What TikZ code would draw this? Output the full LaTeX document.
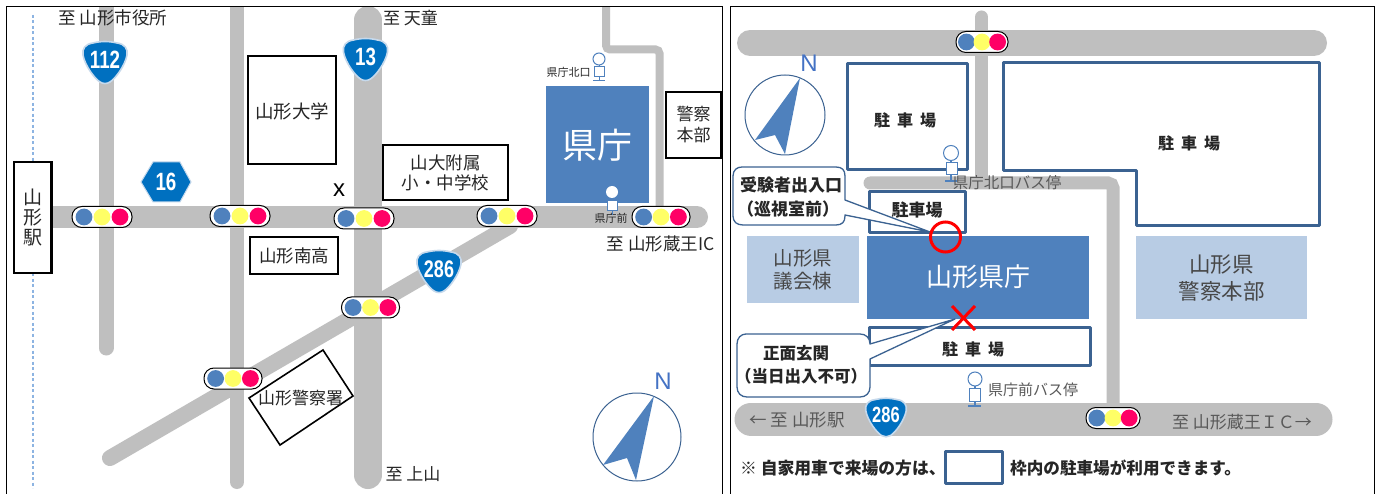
\documentclass[tikz,border=0pt]{standalone}
\usepackage{fontspec}
\newfontfamily\jp{Noto Sans CJK JP}
\newfontfamily\lat{Liberation Sans}
\usetikzlibrary{calc}
\definecolor{road}{HTML}{BFBFBF}
\definecolor{bldg}{HTML}{4F81BD}
\definecolor{pale}{HTML}{B8CCE4}
\definecolor{park}{HTML}{3B6291}
\definecolor{route}{HTML}{0070C0}
\definecolor{routeedge}{HTML}{C6D9EC}
\definecolor{sigy}{HTML}{FFFF66}
\definecolor{sigr}{HTML}{FF0066}
\definecolor{txt}{HTML}{262626}
\definecolor{gtxt}{HTML}{595959}
\definecolor{northc}{HTML}{4472C4}
\definecolor{rail}{HTML}{8DB4E2}
\tikzset{
  panel/.style={draw=black,line width=1pt},
  roadcap/.style={draw=road,line width=#1,line cap=round},
  bbox/.style={draw=black,line width=2.2pt,fill=white,line join=miter},
  pbox/.style={draw=park,line width=3pt,fill=white,line join=round},
  lab/.style={font=\jp\fontsize{#1}{#1}\selectfont,text=txt,inner sep=0pt},
  blab/.style={font=\jp\bfseries\fontsize{#1}{#1}\selectfont,text=txt,inner sep=0pt},
  glab/.style={font=\jp\fontsize{#1}{#1}\selectfont,text=gtxt,inner sep=0pt},
  ml/.style={align=center,font=\jp\fontsize{#1}{#1}\selectfont,text=txt,inner sep=0pt},
  callout/.style={draw=park,line width=1.3pt,fill=white,line join=round},
  person/.style={draw=bldg,line width=1pt,fill=white},
  shieldtext/.style={font=\lat\bfseries\fontsize{#1}{#1}\selectfont,text=white,inner sep=0pt,xscale=.75,transform shape},
}
\newcommand{\gp}{\hspace{7pt}}
% traffic signal: centre x, centre y, half width, name
\newcommand{\sgn}[4]{%
  \node[draw=black,line width=1pt,fill=white,rounded corners=10pt,minimum width=#3*2pt,minimum height=21pt,inner sep=0pt] (#4) at (#1,#2) {};
  \fill[bldg] ({#1-18*#3/30},#2) circle (8.4);
  \fill[sigy] (#1,#2) circle (8.4);
  \fill[sigr] ({#1+18*#3/30},#2) circle (8.4);
}
% route shield: cx, cy, scale, label, font size, name
\newcommand{\shld}[6]{%
  \begin{scope}[shift={(#1,#2)},x=#3pt,y=-#3pt]
    \filldraw[fill=route,draw=routeedge,line width=1.6pt]
      (-12,-20) .. controls (-4,-22) and (4,-22) .. (12,-20)
      .. controls (20,-19) and (23,-14) .. (22,-8)
      .. controls (20,3) and (10,16) .. (5,19)
      .. controls (2,21) and (-2,21) .. (-5,19)
      .. controls (-10,16) and (-20,3) .. (-22,-8)
      .. controls (-23,-14) and (-20,-19) .. (-12,-20) -- cycle;
  \end{scope}
  \node[shieldtext=#5] (#6) at (#1,{#2-3}) {#4};
}
% compass: cx, cy, radius, then polygon points
\newcommand{\cmps}[9]{%
  \draw[draw=park,line width=1pt,fill=white] (#1,#2) circle (#3);
  \fill[bldg] #4 -- #5 -- #6 -- #7 -- cycle;
  \node[font=\lat\fontsize{#8}{#8}\selectfont,text=northc,inner sep=0pt] (#9) at ($#4+(9,-15)$) {N};
}
\begin{document}
\begin{tikzpicture}[x=1pt,y=-1pt]
\useasboundingbox (0,0) rectangle (1376,494);
\fill[white] (0,0) rectangle (1376,494);
\draw[panel] (6.5,7) rectangle (722.5,510);
\draw[panel] (730,7) rectangle (1374,510);

%% LEFT PANEL
\draw[rail,line width=1.4pt,dash pattern=on 3pt off 2.5pt] (33,15) -- (33,488);
\begin{scope}
\clip (7,7.5) rectangle (722,494);
\draw[roadcap=15pt] (106,7) -- (106,348);
\draw[roadcap=14pt] (237,7) -- (237,482);
\draw[roadcap=16pt] (110,458) -- (510,226);
\draw[roadcap=28pt] (368,20) -- (368,475);
\draw[roadcap=22pt] (50,217) -- (697,217);
\draw[road,line width=8pt,rounded corners=4pt] (606,7) -- (606,49.5) -- (659.5,49.5) -- (659.5,208);
\end{scope}

\draw[bbox] (14,162) rectangle (51.5,273);
\node[ml=19] (eki) at (33,217.5) {山\\[1pt]形\\[1pt]駅};
\node[bbox,minimum width=88pt,minimum height=108pt,inner sep=0pt] (daigaku) at (292,110) {};
\node[lab=18.5] (daigakut) at (292,111) {山形大学};
\node[bbox,minimum width=125pt,minimum height=55pt,inner sep=0pt] (fuzoku) at (445.5,172.5) {};
\node[ml=17.5] (fuzokut) at (445.5,173) {山大附属\\[3pt]小・中学校};
\node[bbox,minimum width=55pt,minimum height=66pt,inner sep=0pt] (honbu) at (693.5,125) {};
\node[ml=17] (honbut) at (693.5,125) {警察\\[4pt]本部};
\node[bbox,minimum width=88pt,minimum height=37pt,inner sep=0pt] (nanko) at (294,255.5) {};
\node[lab=17.5] (nankot) at (294,256) {山形南高};
\draw[bbox,line width=1.6pt] (323,350) -- (353,396) -- (280,445) -- (249,398) -- cycle;
\node[lab=17] (keisatsu) at (300.5,398.5) {山形警察署};

\node[fill=bldg,minimum width=103pt,minimum height=117pt,inner sep=0pt] (kencho) at (597.5,144.5) {};
\node[font=\jp\fontsize{35}{35}\selectfont,text=white,inner sep=0pt] (kenchot) at (597.5,145) {県庁};

\shld{105}{63}{1}{112}{25}{r112}
\shld{365.5}{60}{1}{13}{25}{r13}
\shld{439}{272}{1}{286}{24}{r286}
\filldraw[fill=route,draw=routeedge,line width=1pt] (141,182) -- (153,162) -- (180,162) -- (191,182) -- (180,202) -- (153,202) -- cycle;
\node[shieldtext=25] (r16) at (166,181.5) {16};

\sgn{102}{217}{30}{s1}
\sgn{240}{216}{30}{s2}
\sgn{364}{218.5}{30}{s3}
\sgn{507}{216}{30}{s4}
\sgn{661}{217}{29}{s5}
\sgn{370.5}{307.5}{29}{s6}
\sgn{233}{378.5}{29}{s7}

\node[lab=17.5] (t1) at (113,18) {至 山形市役所};
\node[lab=17] (t2) at (410.5,18) {至 天童};
\node[lab=17.5] (t3) at (660.5,244) {至 山形蔵王IC};
\node[lab=17] (t4) at (413,474) {至 上山};
\node[font=\lat\fontsize{24}{24}\selectfont,text=black,inner sep=0pt] (xm) at (339,190) {x};
\node[lab=11] (kitag) at (568.5,72) {県庁北口};
\node[lab=11] (maeg) at (611,218) {県庁前};

\draw[bldg,line width=1pt] (599,65) -- (599,81) (593,81) -- (605,81);
\draw[person] (599,59) circle (6);
\draw[person] (594,67) rectangle (604,77);
\fill[white] (612,192) circle (6);
\draw[bldg,line width=1pt] (612,198) -- (612,215);
\draw[person] (607,201) rectangle (617,211);

\cmps{637}{437}{44}{(654,396)}{(603,465)}{(627,458)}{(636,480)}{24}{n1}

%% RIGHT PANEL
\draw[roadcap=13pt] (981.5,17) -- (981.5,180);
\draw[roadcap=26pt] (750,43) -- (1314,43);
\draw[road,line width=13pt,rounded corners=5pt,line cap=round] (870,183) -- (1113,183) -- (1113,410);
\draw[roadcap=33pt] (751,419) -- (1316,419);

\draw[pbox] (847,64) rectangle (967,170);
\node[blab=16] (p1) at (905,120) {駐\gp 車\gp 場};
\draw[pbox] (1003,62.5) -- (1319,62.5) -- (1319,226) -- (1136,226) -- (1136,171) -- (1003,171) -- cycle;
\node[blab=16] (p2) at (1189,143) {駐\gp 車\gp 場};
\draw[pbox] (869,192) rectangle (965,233);
\node[blab=17] (p3) at (917,210.5) {駐車場};
\draw[pbox] (869,327) rectangle (1090,365);
\node[blab=16] (p4) at (973,349) {駐\gp 車\gp 場};

\node[fill=bldg,minimum width=222pt,minimum height=83pt,inner sep=0pt] (main) at (978,277.5) {};
\node[font=\jp\fontsize{26}{26}\selectfont,text=white,inner sep=0pt] (maint) at (978,277) {山形県庁};
\node[fill=pale,minimum width=112pt,minimum height=67pt,inner sep=0pt] (gikai) at (803,269.5) {};
\node[align=center,font=\jp\fontsize{19.5}{19.5}\selectfont,text=gtxt!80!black,inner sep=0pt] (gikait) at (803,270) {山形県\\[4pt]議会棟};
\node[fill=pale,minimum width=171pt,minimum height=83pt,inner sep=0pt] (pol) at (1221.5,277.5) {};
\node[align=center,font=\jp\fontsize{21.5}{21.5}\selectfont,text=gtxt!80!black,inner sep=0pt] (polt) at (1221.5,278) {山形県\\[5pt]警察本部};

% callouts
\draw[callout] (733,176) -- (733,216) .. controls (733,222) and (737,225) .. (743,225) -- (836,225) .. controls (842,225) and (845,222) .. (845,216) -- (845,215) -- (930,232) -- (845,200) -- (845,176) .. controls (845,170) and (842,167) .. (836,167) -- (742,167) .. controls (737,167) and (733,170) .. (733,176) -- cycle;
\node[blab=17] (c1a) at (791,185) {受験者出入口};
\node[blab=17] (c1b) at (788,209) {（巡視室前）};
\draw[callout] (746,334) -- (860,334) .. controls (866,334) and (870,338) .. (870,344) -- (955,319) -- (870,359) -- (870,387) .. controls (870,393) and (866,397) .. (860,397) -- (747,397) .. controls (741,397) and (737,393) .. (737,387) -- (737,344) .. controls (737,338) and (741,334) .. (746,334) -- cycle;
\node[blab=16.5] (c2a) at (796,353) {正面玄関};
\node[blab=16.5] (c2b) at (801,376) {（当日出入不可）};

\draw[red,line width=3pt] (945.5,237) circle (15);
\draw[red,line width=3pt] (952,306) -- (975,330) (975,306) -- (952,330);

% bus stops
\draw[bldg,line width=1.2pt] (951,160) -- (951,181) (945,181) -- (957,181);
\draw[person] (951,153) circle (7.5);
\draw[person] (946,163) rectangle (957,175);
\node[glab=15.5] (busn) at (1007,183) {県庁北口バス停};
\draw[bldg,line width=1.2pt] (975,385) -- (975,406) (968,406) -- (981,406);
\draw[person] (975,379) circle (7);
\draw[person] (969.5,388) rectangle (980.5,401);
\node[glab=15] (buss) at (1033,390) {県庁前バス停};

\node[glab=17.5] (w) at (797,420) {← 至 山形駅};
\node[glab=17] (e) at (1242,422) {至 山形蔵王ＩＣ→};

\shld{886}{418}{.92}{286}{22}{r286b}
\sgn{982}{42}{26}{s8}
\sgn{1113}{418}{27}{s9}
\cmps{785}{115}{40}{(800,78)}{(755,140)}{(775,135)}{(785,154)}{24}{n2}

\node[blab=16.8,anchor=west] (leg1) at (740,468) {※ 自家用車で来場の方は、};
\draw[pbox] (945,451) rectangle (1002,483);
\node[blab=16.6,anchor=west] (leg2) at (1010,468) {枠内の駐車場が利用できます。};
\end{tikzpicture}
\end{document}
